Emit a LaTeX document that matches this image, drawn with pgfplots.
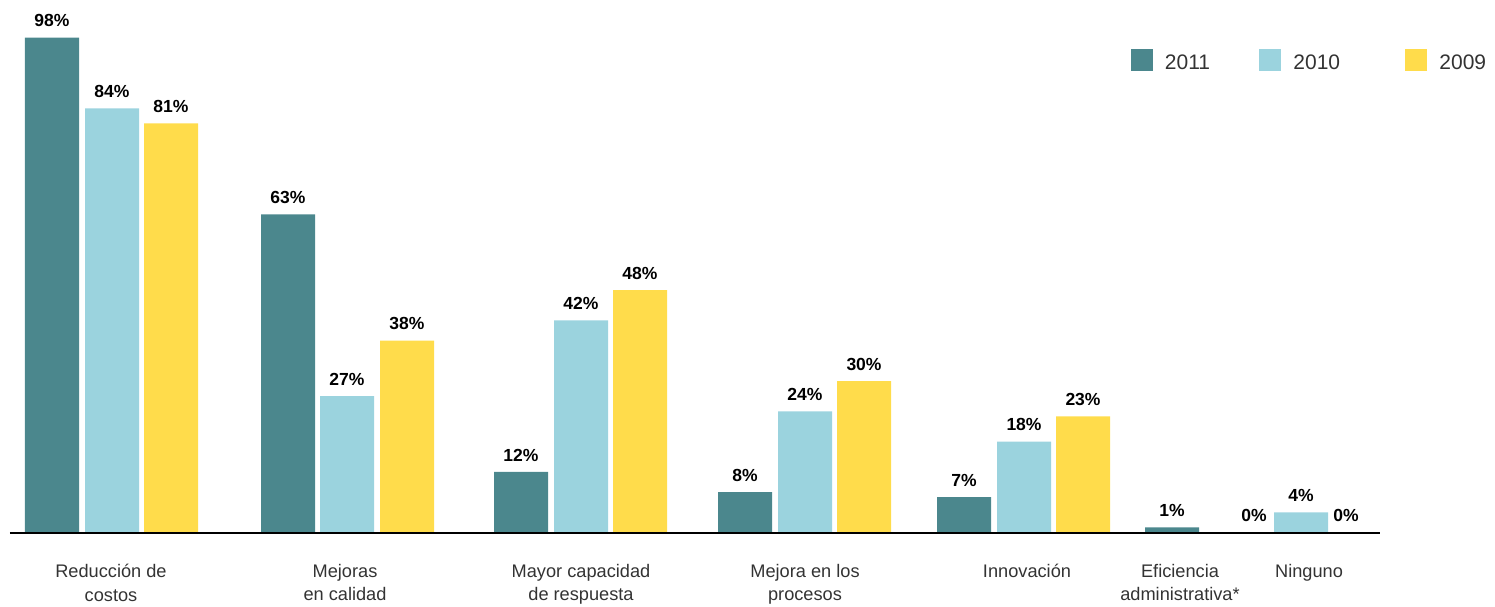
\documentclass[border=0pt]{standalone}
\usepackage{fontspec}
\setmainfont{Liberation Sans}
\usepackage{pgfplots}
\pgfplotsset{compat=1.18}
\definecolor{cA}{HTML}{4B878D}
\definecolor{cB}{HTML}{9BD3DE}
\definecolor{cC}{HTML}{FFDC4B}
\definecolor{txt}{HTML}{333333}
\begin{document}
\begin{tikzpicture}
\path[use as bounding box] (0pt,0pt) rectangle (1495pt,606pt);
\begin{axis}[
 at={(10pt,73.5pt)}, anchor=south west,
 scale only axis, width=1370pt, height=505pt,
 xmin=10, xmax=1380, ymin=0, ymax=100,
 ybar, bar width=54,
 axis x line=bottom, axis y line=none,
 axis line style={line width=2pt, -, black},
 every outer x axis line/.append style={line width=2pt},
 axis on top,
 clip=false,
 xtick={111,345,581,805,1027,1180,1309},
 xticklabels={{Reducción de\\costos},{Mejoras\\en calidad},{Mayor capacidad\\de respuesta},{Mejora en los\\procesos},{Innovación},{Eficiencia\\administrativa*},{Ninguno}},
 major tick length=0pt,
 xticklabel style={align=center, font=\fontsize{18.2}{23.5}\selectfont, text=txt, inner sep=0pt, anchor=north, yshift=-31.5pt},
 ytick=\empty,
 /pgf/number format/assume math mode=true,
 nodes near coords={\pgfmathprintnumber{\pgfplotspointmeta}\%},
 nodes near coords style={font=\bfseries\fontsize{17.5}{20}\selectfont, text=black, inner sep=0pt, anchor=south, yshift=10.5pt},
 legend image code/.code={\fill[#1] (0pt,-1pt) rectangle (22pt,21pt);},
 legend style={at={(0.8182,0.9574)}, anchor=north west, draw=none, fill=none, inner sep=0pt, outer sep=0pt, row sep=0pt, font=\fontsize{21}{24}\selectfont, text=txt, nodes={inner sep=0pt, yshift=7.5pt}, /tikz/every odd column/.append style={column sep=12pt}},
 legend columns=3, legend cell align=left,
]
\addplot[fill=cA, draw=none, bar shift=0pt] coordinates {(52,98) (288,63) (521,12) (745,8) (964,7) (1172,1) (1254,0)};
\addplot[fill=cB, draw=none, bar shift=0pt] coordinates {(112,84) (347,27) (581,42) (805,24) (1024,18) (1301,4)};
\addplot[fill=cC, draw=none, bar shift=0pt] coordinates {(171,81) (407,38) (640,48) (864,30) (1083,23) (1346,0)};
\addlegendentry{2011\kern49.3pt}
\addlegendentry{2010\kern65.3pt}
\addlegendentry{2009}
\end{axis}
\end{tikzpicture}
\end{document}
